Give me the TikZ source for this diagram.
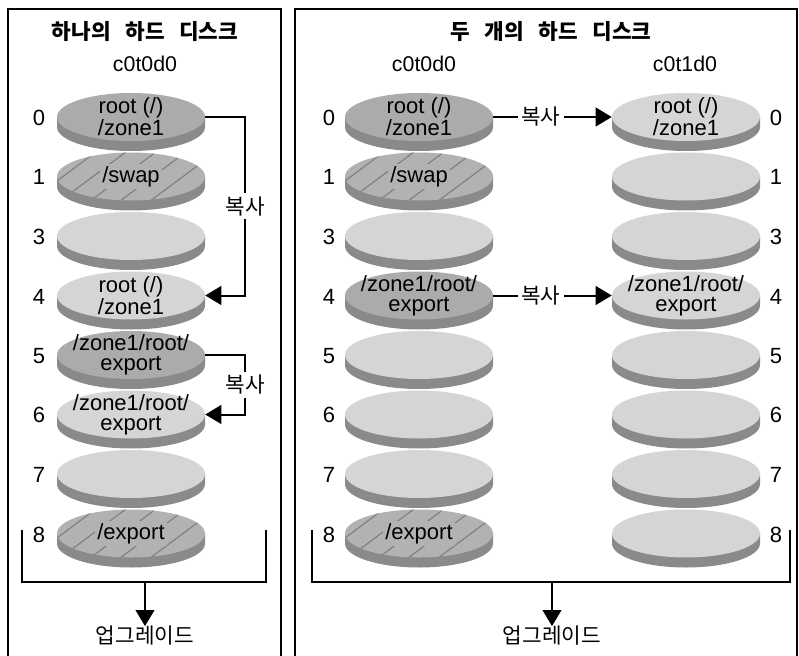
\documentclass[tikz,border=0pt]{standalone}
\usepackage{fontspec}
\setmainfont{Liberation Sans}
\newfontfamily\kr[WordSpace=3]{Noto Sans CJK KR}
\usetikzlibrary{shapes.geometric,arrows.meta}
\definecolor{topE}{HTML}{D5D5D5}
\definecolor{topU}{HTML}{ABABAB}
\definecolor{topH}{HTML}{B2B2B2}
\definecolor{sideC}{HTML}{8A8A8A}
\definecolor{hatchC}{HTML}{7C7C7C}
\tikzset{
  discface/.style={shape=ellipse, minimum width=111pt, minimum height=36pt, inner sep=0pt, draw=none},
  disctext/.style={align=center, inner sep=0pt, font=\fontsize{16.5}{15}\selectfont},
  hatchtext/.style={disctext, fill=topH, inner sep=1.5pt},
  numlbl/.style={inner sep=0pt, font=\fontsize{16.5}{16}\selectfont},
  headlbl/.style={inner sep=0pt, font=\fontsize{16}{16}\selectfont},
  titlelbl/.style={inner sep=0pt, font=\kr\bfseries\fontsize{16}{16}\selectfont},
  krlbl/.style={inner sep=0pt, font=\kr\fontsize{16}{16}\selectfont},
  copylbl/.style={fill=white, inner sep=2.5pt, font=\kr\fontsize{16}{16}\selectfont},
  conn/.style={line width=1.5pt, black},
  arrowconn/.style={conn, -{Triangle[length=12pt,width=14pt]}},
  panel/.style={line width=1.6pt, black}
}
% name, cx, cy, top colour
\newcommand{\mydisc}[4]{%
  \fill[sideC] (#2-74,#3) -- (#2-74,#3+10) arc[start angle=180,end angle=360,x radius=55.5pt,y radius=18pt] -- (#2+74,#3) -- cycle;
  \node[discface,fill=#4] (#1) at (#2,#3) {};
}
\newcommand{\myhatch}[2]{%
  \begin{scope}
    \clip (#1,#2) ellipse [x radius=55.5pt, y radius=18pt];
    \foreach \k in {-5,...,4} \draw[hatchC, line width=0.8pt] (#1+\k*30-25,#2+35) -- ++(94,-70);
  \end{scope}
}
\begin{document}
\begin{tikzpicture}[x=0.75pt,y=-0.75pt]
\useasboundingbox (0,0) rectangle (799,656);
\fill[white] (0,0) rectangle (799,656);
% panels
\draw[panel] (8,9) rectangle (281,700);
\draw[panel] (295,9) rectangle (797,700);
% titles
\node[titlelbl] (t1) at (145,32) {하나의 하드 디스크};
\node[titlelbl] (t2) at (551,32) {두 개의 하드 디스크};
\node[headlbl] (h1) at (145,64) {c0t0d0};
\node[headlbl] (h2) at (424,64) {c0t0d0};
\node[headlbl] (h3) at (685,64) {c0t1d0};

% ---------- left panel stack (cx=131) ----------
\mydisc{L8}{131}{533.5}{topH}\myhatch{131}{533.5}
\mydisc{L7}{131}{474}{topE}
\mydisc{L6}{131}{414.5}{topE}
\mydisc{L5}{131}{355}{topU}
\mydisc{L4}{131}{295.5}{topE}
\mydisc{L3}{131}{236}{topE}
\mydisc{L1}{131}{176.5}{topH}\myhatch{131}{176.5}
\mydisc{L0}{131}{117}{topU}
\node[disctext] (L0t) at (L0) {root (/)\\/zone1};
\node[hatchtext] (L1t) at (L1) {/swap};
\node[disctext] (L4t) at (L4) {root (/)\\/zone1};
\node[disctext] (L5t) at (L5) {/zone1/root/\\export};
\node[disctext] (L6t) at (L6) {/zone1/root/\\export};
\node[hatchtext] (L8t) at (L8) {/export};
\node[numlbl] (Ln0) at (39,118) {0};
\node[numlbl] (Ln1) at (39,177) {1};
\node[numlbl] (Ln3) at (39,237) {3};
\node[numlbl] (Ln4) at (39,297) {4};
\node[numlbl] (Ln5) at (39,356) {5};
\node[numlbl] (Ln6) at (39,415) {6};
\node[numlbl] (Ln7) at (39,475) {7};
\node[numlbl] (Ln8) at (39,535) {8};

% ---------- right panel, disk c0t0d0 (cx=419) ----------
\mydisc{R8}{419}{533.5}{topH}\myhatch{419}{533.5}
\mydisc{R7}{419}{474}{topE}
\mydisc{R6}{419}{414.5}{topE}
\mydisc{R5}{419}{355}{topE}
\mydisc{R4}{419}{295.5}{topU}
\mydisc{R3}{419}{236}{topE}
\mydisc{R1}{419}{176.5}{topH}\myhatch{419}{176.5}
\mydisc{R0}{419}{117}{topU}
\node[disctext] (R0t) at (R0) {root (/)\\/zone1};
\node[hatchtext] (R1t) at (R1) {/swap};
\node[disctext] (R4t) at (R4) {/zone1/root/\\export};
\node[hatchtext] (R8t) at (R8) {/export};
\node[numlbl] (Rn0) at (329,118) {0};
\node[numlbl] (Rn1) at (329,177) {1};
\node[numlbl] (Rn3) at (329,237) {3};
\node[numlbl] (Rn4) at (329,297) {4};
\node[numlbl] (Rn5) at (329,356) {5};
\node[numlbl] (Rn6) at (329,415) {6};
\node[numlbl] (Rn7) at (329,475) {7};
\node[numlbl] (Rn8) at (329,535) {8};

% ---------- right panel, disk c0t1d0 (cx=686) ----------
\mydisc{S8}{686}{533.5}{topE}
\mydisc{S7}{686}{474}{topE}
\mydisc{S6}{686}{414.5}{topE}
\mydisc{S5}{686}{355}{topE}
\mydisc{S4}{686}{295.5}{topE}
\mydisc{S3}{686}{236}{topE}
\mydisc{S1}{686}{176.5}{topE}
\mydisc{S0}{686}{117}{topE}
\node[disctext] (S0t) at (S0) {root (/)\\/zone1};
\node[disctext] (S4t) at (S4) {/zone1/root/\\export};
\node[numlbl] (Sn0) at (776,118) {0};
\node[numlbl] (Sn1) at (776,177) {1};
\node[numlbl] (Sn3) at (776,237) {3};
\node[numlbl] (Sn4) at (776,297) {4};
\node[numlbl] (Sn5) at (776,356) {5};
\node[numlbl] (Sn6) at (776,415) {6};
\node[numlbl] (Sn7) at (776,475) {7};
\node[numlbl] (Sn8) at (776,535) {8};

% ---------- copy connectors ----------
\draw[arrowconn] (L0.east) -- ++(40,0) |- node[pos=0.25,copylbl] (c1) {복사} (L4.east);
\draw[arrowconn] (L5.east) -- ++(40,0) |- node[pos=0.25,copylbl] (c2) {복사} (L6.east);
\draw[arrowconn] (R0.east) -- node[pos=0.4,copylbl] (c3) {복사} (S0.west);
\draw[arrowconn] (R4.east) -- node[pos=0.4,copylbl] (c4) {복사} (S4.west);

% ---------- upgrade brackets ----------
\coordinate (a1) at (22,530);
\coordinate (a2) at (22,582);
\coordinate (a3) at (266,582);
\coordinate (a4) at (266,530);
\coordinate (am) at (145,582);
\draw[conn] (a1) -- (a2) -- (a3) -- (a4);
\node[krlbl] (u1) at (145,636) {업그레이드};
\draw[arrowconn] (am) -- (u1.north);

\coordinate (b1) at (312,530);
\coordinate (b2) at (312,582);
\coordinate (b3) at (790,582);
\coordinate (b4) at (790,530);
\coordinate (bm) at (552,582);
\draw[conn] (b1) -- (b2) -- (b3) -- (b4);
\node[krlbl] (u2) at (552,636) {업그레이드};
\draw[arrowconn] (bm) -- (u2.north);
\end{tikzpicture}
\end{document}
